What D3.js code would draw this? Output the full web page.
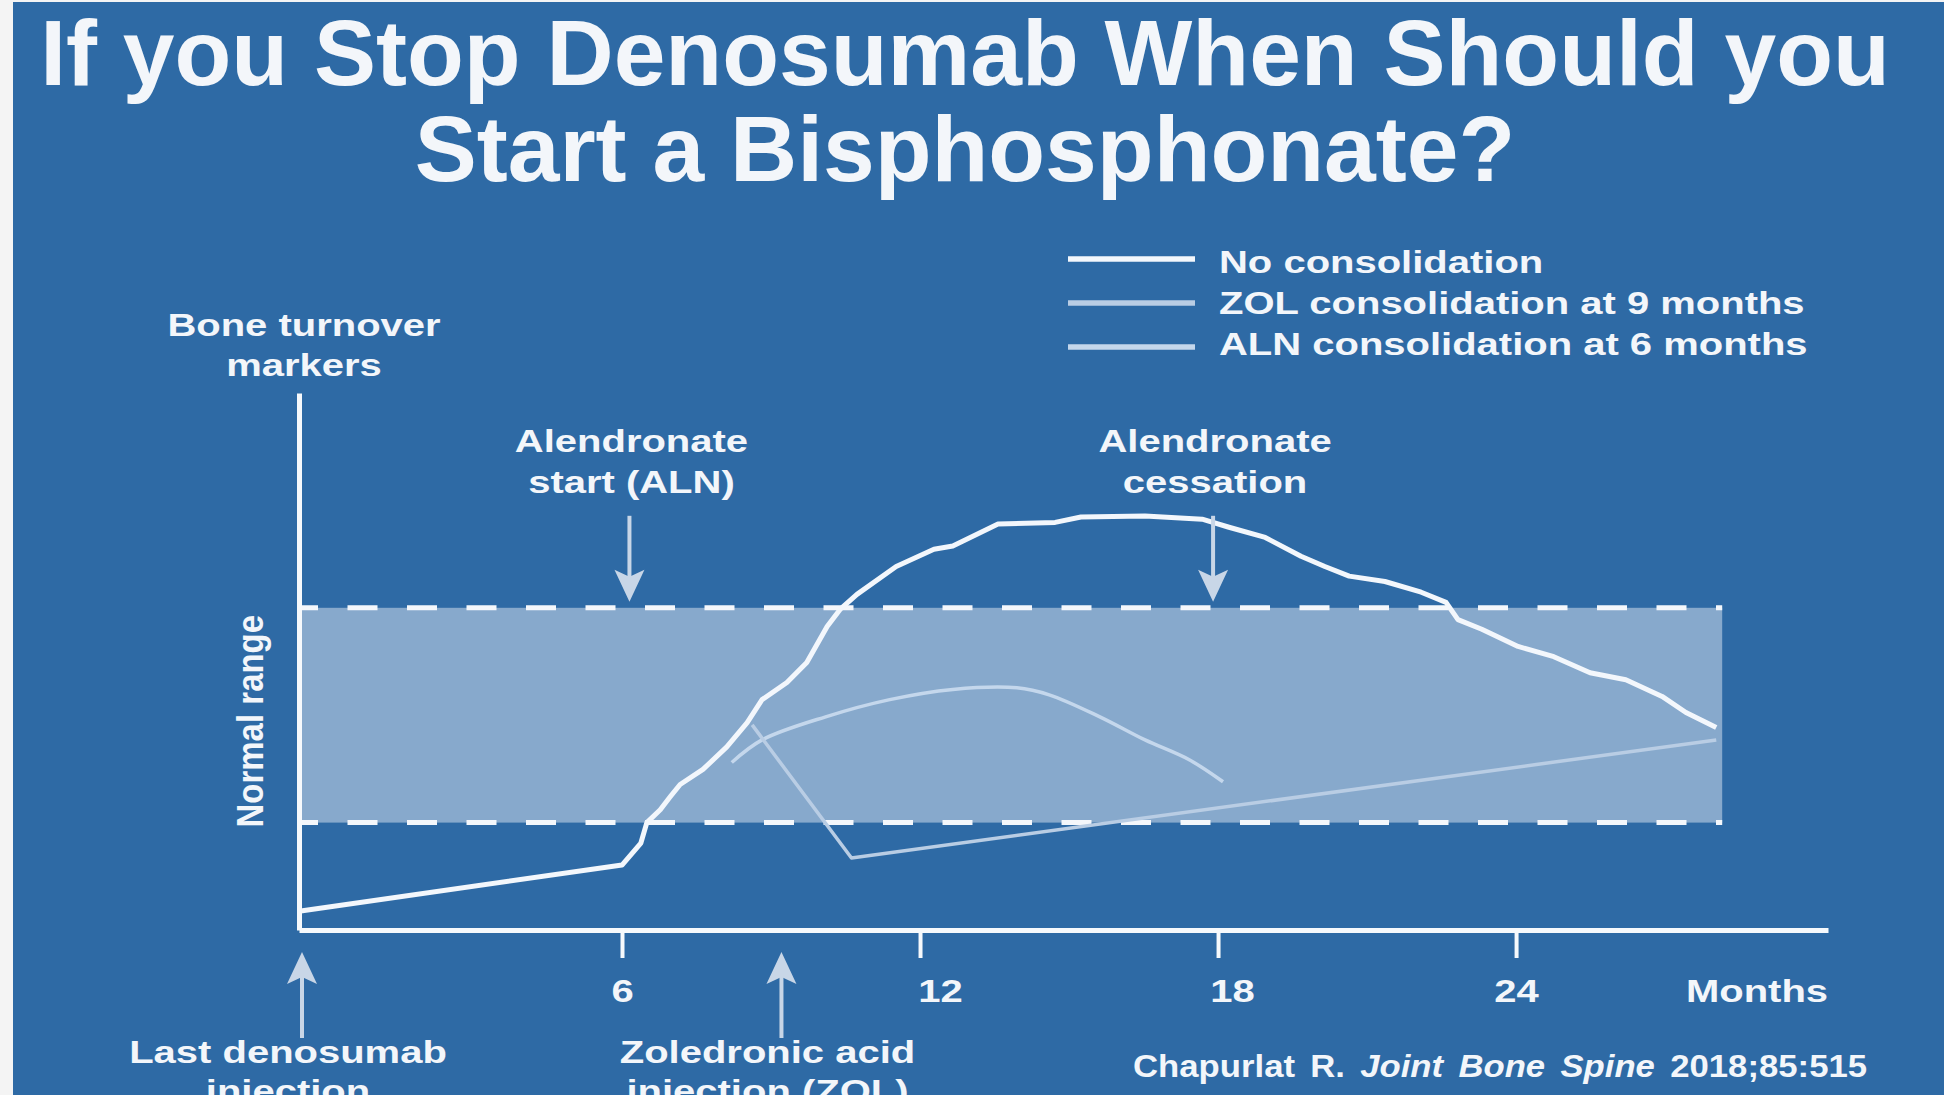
<!DOCTYPE html>
<html>
<head>
<meta charset="utf-8">
<script src="https://cdn.jsdelivr.net/npm/d3@7/dist/d3.min.js"></script>
<style>
body{margin:0;background:#f4f4f4;overflow:hidden;}
svg{display:block;}
text{font-family:"Liberation Sans",Arial,sans-serif;font-weight:bold;fill:#f3f6fa;}
</style>
</head>
<body>
<div id="plot"></div>
<script>
/* data: [month, marker level 0-100] */
var noConsolidation = [[0,3.5],[6,12.1],[6.38,16.2],[6.5,20],[6.77,22.4],[6.97,24.8],[7.17,27.1],[7.63,29.9],
    [8.11,34.1],[8.52,38.6],[8.82,42.9],[9.32,46.1],[9.72,49.8],[10.13,56.5],[10.39,59.7],[10.73,62.5],
    [11.52,67.7],[12.28,70.9],[12.66,71.5],[13.57,75.6],[14.72,75.9],[15.24,76.9],[16.53,77.1],[17.68,76.5],
    [18.22,75],[18.95,73.1],[19.67,69.6],[20.15,67.7],[20.64,65.9],[21.36,64.9],[22.09,62.9],[22.59,61],
    [22.83,57.8],[23.31,56],[24.04,52.8],[24.76,50.9],[25.49,47.9],[26.21,46.6],[26.94,43.5],[27.42,40.5],[28.03,37.7]];
var zolConsolidation = [[8.62,38.2],[10.62,13.4],[28.03,35.4]];
var alnConsolidation = [[8.21,31.2],[8.82,35.4],[10.1,39.7],[11.39,42.9],[12.66,44.8],[13.95,45.1],[14.6,43.8],
    [15.62,39.7],[16.53,35.4],[17.42,31.7],[18.1,27.6]];

var normalRange = [20, 60];
var normalRangeEnd = 28.15;
var tickMonths = [6, 12, 18, 24];
var tickNudge = [0, 20, 14, 0];   // labels in the figure sit a bit right of some ticks
var seriesNames = ['No consolidation', 'ZOL consolidation at 9 months', 'ALN consolidation at 6 months'];
var seriesColors = ['#f3f7fc', '#b9cde4', '#c4d7ec'];
var topEvents = [{month:6.15, lines:['Alendronate','start (ALN)']}, {month:17.9, lines:['Alendronate','cessation']}];
var bottomEvents = [{month:0, lines:['Last denosumab','injection']}, {month:9.15, lines:['Zoledronic acid','injection (ZOL)']}];
var titleLines = ['If you Stop Denosumab When Should you', 'Start a Bisphosphonate?'];

var W = 1944, H = 1095;
var stretch = 1.29;

var svg = d3.select('#plot').append('svg')
    .attr('width', W)
    .attr('height', H);

svg.append('rect')
    .attr('x', 13).attr('y', 2)
    .attr('width', W - 13).attr('height', H - 2)
    .attr('fill', '#2e6aa5');

// title
svg.append('text')
    .attr('text-anchor', 'middle')
    .style('font-size', '93px')
    .selectAll('tspan').data(titleLines).enter()
    .append('tspan')
    .attr('x', 965)
    .attr('y', function(d, i){ return 85 + i * 96; })
    .text(function(d){ return d; });

// scales (the axis origin sits a little left of the regular month spacing)
var x = d3.scaleLinear().domain([0, 6, 30.28]).range([299, 622, 1828]);
var y = d3.scaleLinear().domain([0, 100]).range([930, 393]);

function label(sel, px, py, lines, size, sx, anchor, lh){
    var t = sel.append('text')
        .attr('transform', 'translate(' + px + ',' + py + ') scale(' + sx + ',1)')
        .attr('text-anchor', anchor)
        .style('font-size', size + 'px');
    t.selectAll('tspan').data(lines).enter()
        .append('tspan')
        .attr('x', 0)
        .attr('y', function(d, i){ return i * lh; })
        .text(function(d){ return d; });
    return t;
}

var plot = svg.append('g');

// normal range band
plot.append('rect')
    .attr('x', x(0))
    .attr('y', y(normalRange[1]))
    .attr('width', x(normalRangeEnd) - x(0))
    .attr('height', y(normalRange[0]) - y(normalRange[1]))
    .attr('fill', '#87a9cc');

plot.selectAll('.range-line')
    .data(normalRange).enter()
    .append('line')
    .attr('class', 'range-line')
    .attr('x1', x(0) + 3).attr('x2', x(normalRangeEnd))
    .attr('y1', function(d){ return y(d); })
    .attr('y2', function(d){ return y(d); })
    .attr('stroke', '#f4f7fb')
    .attr('stroke-width', 5)
    .attr('stroke-dasharray', '30,29.5')
    .attr('stroke-dashoffset', 14);

// series
var line = d3.line()
    .x(function(d){ return x(d[0]); })
    .y(function(d){ return y(d[1]); });

var series = [alnConsolidation, zolConsolidation, noConsolidation];
var seriesIdx = [2, 1, 0];
var seriesWidth = [3.5, 3.5, 5];

plot.selectAll('.series')
    .data(series).enter()
    .append('path')
    .attr('class', 'series')
    .attr('d', function(d, i){
        return i === 0 ? line.curve(d3.curveCatmullRom)(d) : line.curve(d3.curveLinear)(d);
    })
    .attr('fill', 'none')
    .attr('stroke', function(d, i){ return seriesColors[seriesIdx[i]]; })
    .attr('stroke-width', function(d, i){ return seriesWidth[i]; })
    .attr('stroke-linejoin', 'round');

// axes
var xAxis = d3.axisBottom(x)
    .tickValues(tickMonths)
    .tickSize(28)
    .tickSizeOuter(0)
    .tickPadding(22)
    .tickFormat(d3.format('d'));

var gx = plot.append('g')
    .attr('transform', 'translate(0,' + y(0) + ')')
    .call(xAxis);
gx.select('.domain').attr('stroke', '#f6f9fc').attr('stroke-width', 5);
gx.selectAll('.tick line').attr('stroke', '#f6f9fc').attr('stroke-width', 4);
gx.selectAll('.tick text')
    .attr('fill', '#f3f6fa')
    .attr('font-family', null)
    .attr('font-size', null)
    .style('font-size', '31px')
    .attr('transform', function(d, i){ return 'translate(' + tickNudge[i] + ',0) scale(' + stretch + ',1)'; });

var gy = plot.append('g')
    .attr('transform', 'translate(' + x(0) + ',0)')
    .call(d3.axisLeft(y).tickValues([]).tickSizeOuter(0));
gy.select('.domain').attr('stroke', '#f6f9fc').attr('stroke-width', 5);

label(plot, 1757, y(0) + 72, ['Months'], 31, stretch, 'middle', 0);
label(plot, 304, y(100) - 57, ['Bone turnover', 'markers'], 31, stretch, 'middle', 40);

// rotated band label
plot.append('text')
    .attr('transform', 'translate(263,' + ((y(normalRange[0]) + y(normalRange[1])) / 2 + 6) + ') rotate(-90) scale(1,1.12)')
    .attr('text-anchor', 'middle')
    .style('font-size', '33px')
    .text('Normal range');

// arrows
var arrowColor = '#c8d6e7';
function arrow(px, tip, dir){
    // dir = 1 points down, -1 points up
    plot.append('line')
        .attr('x1', px).attr('x2', px)
        .attr('y1', tip - dir * 86).attr('y2', tip - dir * 20)
        .attr('stroke', arrowColor).attr('stroke-width', 4);
    plot.append('path')
        .attr('d', 'M' + px + ',' + tip +
            'L' + (px - 15) + ',' + (tip - dir * 32) +
            'L' + px + ',' + (tip - dir * 25) +
            'L' + (px + 15) + ',' + (tip - dir * 32) + 'Z')
        .attr('fill', arrowColor);
}

topEvents.forEach(function(e){
    arrow(x(e.month), y(normalRange[1]) - 6, 1);
    label(plot, x(e.month) + 2, y(normalRange[1]) - 156, e.lines, 31, stretch, 'middle', 41);
});
bottomEvents.forEach(function(e){
    arrow(x(e.month) + 3, y(0) + 22, -1);
    label(plot, x(e.month) - 11, y(0) + 133, e.lines, 31, stretch, 'middle', 39);
});

// legend
var legend = svg.append('g').attr('transform', 'translate(1068,259)');
legend.selectAll('.key')
    .data(seriesNames).enter()
    .append('line')
    .attr('class', 'key')
    .attr('x1', 0).attr('x2', 127)
    .attr('y1', function(d, i){ return i * 44; })
    .attr('y2', function(d, i){ return i * 44; })
    .attr('stroke', function(d, i){ return seriesColors[i]; })
    .attr('stroke-width', 5.5);
seriesNames.forEach(function(d, i){
    label(legend, 151, 14 + i * 41, [d], 31, stretch, 'start', 0);
});

// citation
var cite = svg.append('text')
    .attr('transform', 'translate(1133,1077) scale(1.12,1)')
    .style('font-size', '31px')
    .style('word-spacing', '5px');
cite.append('tspan').text('Chapurlat R. ');
cite.append('tspan').style('font-style', 'italic').text('Joint Bone Spine');
cite.append('tspan').text(' 2018;85:515');
</script>
</body>
</html>
